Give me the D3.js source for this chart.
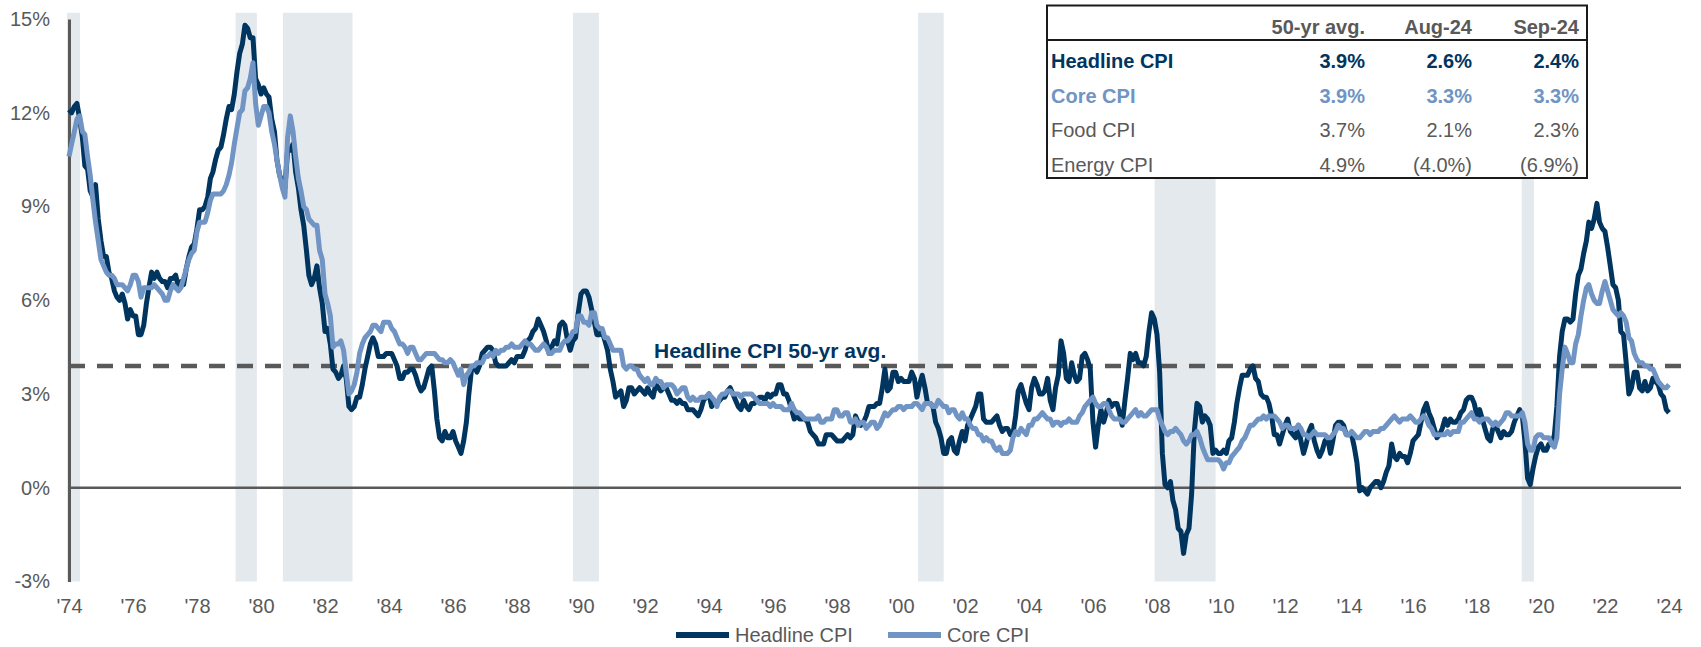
<!DOCTYPE html>
<html lang="en">
<head>
  <meta charset="UTF-8">
  <title>Headline and Core CPI</title>
  <script src="https://cdn.jsdelivr.net/npm/d3@7"></script>
  <style>
    body { margin: 0; background: #fff; }
    svg text { font-family: "Liberation Sans", Arial, sans-serif; }
  </style>
</head>
<body>
<div id="chart"></div>
<script>
  // Monthly y/y % change, first value is Sep 1974, last is Sep 2024
  const firstMonth = new Date(1974, 8, 1);

  const headline = [
    12.1, 12.0, 12.2, 12.3,
    11.8, 11.2, 10.3, 10.2, 9.5, 9.3, 9.7, 8.6, 7.9, 7.4, 7.4, 6.9,
    6.7, 6.3, 6.1, 6.0, 6.2, 5.9, 5.4, 5.7, 5.5, 5.5, 4.9, 4.9,
    5.2, 5.9, 6.4, 6.9, 6.7, 6.9, 6.7, 6.6, 6.6, 6.4, 6.7, 6.7,
    6.8, 6.4, 6.6, 6.5, 7.0, 7.4, 7.7, 7.8, 8.3, 8.9, 8.9, 9.0,
    9.3, 9.9, 10.1, 10.5, 10.8, 10.9, 11.3, 11.8, 12.2, 12.1, 12.6, 13.3,
    13.9, 14.2, 14.8, 14.7, 14.4, 14.4, 13.1, 12.9, 12.6, 12.8, 12.6, 12.5,
    11.8, 11.4, 10.5, 10.0, 9.8, 9.6, 10.8, 10.8, 11.0, 10.1, 9.6, 8.9,
    8.4, 7.6, 6.8, 6.5, 6.7, 7.1, 6.4, 5.9, 5.0, 5.1, 4.6, 3.8,
    3.7, 3.5, 3.6, 3.9, 3.5, 2.6, 2.5, 2.6, 2.9, 2.9, 3.3, 3.8,
    4.2, 4.6, 4.8, 4.6, 4.2, 4.2, 4.2, 4.3, 4.3, 4.3, 4.1, 3.9,
    3.5, 3.5, 3.7, 3.7, 3.8, 3.8, 3.6, 3.3, 3.1, 3.2, 3.5, 3.8,
    3.9, 3.1, 2.2, 1.6, 1.5, 1.8, 1.6, 1.6, 1.8, 1.5, 1.3, 1.1,
    1.5, 2.1, 3.0, 3.8, 3.9, 3.7, 3.9, 4.3, 4.4, 4.5, 4.5, 4.4,
    4.0, 3.9, 3.9, 3.9, 3.9, 4.0, 4.1, 4.0, 4.2, 4.2, 4.2, 4.4,
    4.7, 4.8, 5.0, 5.1, 5.4, 5.2, 5.0, 4.7, 4.3, 4.5, 4.7, 4.6,
    5.2, 5.3, 5.2, 4.7, 4.4, 4.7, 4.8, 5.6, 6.2, 6.3, 6.3, 6.1,
    5.7, 5.3, 4.9, 4.9, 5.0, 4.7, 4.4, 3.8, 3.4, 2.9, 3.0, 3.1,
    2.6, 2.8, 3.2, 3.2, 3.0, 3.1, 3.2, 3.1, 3.0, 3.2, 3.0, 2.9,
    3.3, 3.2, 3.1, 3.2, 3.2, 3.0, 2.8, 2.8, 2.7, 2.8, 2.7, 2.7,
    2.5, 2.5, 2.5, 2.4, 2.3, 2.5, 2.8, 2.9, 3.0, 2.6, 2.7, 2.7,
    2.8, 2.9, 2.9, 3.1, 3.2, 3.0, 2.8, 2.6, 2.5, 2.8, 2.6, 2.5,
    2.7, 2.7, 2.8, 2.9, 2.9, 2.8, 3.0, 2.9, 3.0, 3.0, 3.3, 3.3,
    3.0, 3.0, 2.8, 2.5, 2.2, 2.3, 2.2, 2.2, 2.2, 2.1, 1.8, 1.7,
    1.6, 1.4, 1.4, 1.4, 1.7, 1.7, 1.7, 1.6, 1.5, 1.5, 1.5, 1.6,
    1.7, 1.6, 1.7, 2.3, 2.1, 2.0, 2.1, 2.3, 2.6, 2.6, 2.6, 2.7,
    2.7, 3.2, 3.8, 3.1, 3.2, 3.7, 3.7, 3.4, 3.5, 3.4, 3.4, 3.4,
    3.7, 3.5, 2.9, 3.3, 3.6, 3.2, 2.7, 2.7, 2.6, 2.1, 1.9, 1.6,
    1.1, 1.1, 1.5, 1.6, 1.2, 1.1, 1.5, 1.8, 1.5, 2.0, 2.2, 2.4,
    2.6, 3.0, 3.0, 2.2, 2.1, 2.1, 2.1, 2.2, 2.3, 2.0, 1.8, 1.9,
    1.9, 1.7, 1.7, 2.3, 3.1, 3.3, 3.0, 2.7, 2.5, 3.2, 3.5, 3.3,
    3.0, 3.0, 3.1, 3.5, 2.8, 2.5, 3.2, 3.6, 4.7, 4.3, 3.5, 3.4,
    4.0, 3.6, 3.4, 3.5, 4.2, 4.3, 4.1, 3.8, 2.1, 1.3, 2.0, 2.5,
    2.1, 2.4, 2.8, 2.6, 2.7, 2.7, 2.4, 2.0, 2.8, 3.5, 4.3, 4.1,
    4.3, 4.0, 4.0, 3.9, 4.2, 5.0, 5.6, 5.4, 4.9, 3.7, 1.1, 0.1,
    0.0, 0.2, -0.4, -0.7, -1.3, -1.4, -2.1, -1.5, -1.3, -0.2, 1.8, 2.7,
    2.6, 2.1, 2.3, 2.2, 2.0, 1.1, 1.2, 1.1, 1.1, 1.2, 1.1, 1.5,
    1.6, 2.1, 2.7, 3.2, 3.6, 3.6, 3.6, 3.8, 3.9, 3.5, 3.4, 3.0,
    2.9, 2.9, 2.7, 2.3, 1.7, 1.7, 1.4, 1.7, 2.0, 2.2, 1.8, 1.7,
    1.6, 2.0, 1.5, 1.1, 1.4, 1.8, 2.0, 1.5, 1.2, 1.0, 1.2, 1.5,
    1.6, 1.1, 1.5, 2.0, 2.1, 2.1, 2.0, 1.7, 1.7, 1.7, 1.3, 0.8,
    -0.1, 0.0, -0.1, -0.2, 0.0, 0.1, 0.2, 0.2, 0.0, 0.2, 0.5, 0.7,
    1.4, 1.0, 0.9, 1.1, 1.0, 1.0, 0.8, 1.1, 1.5, 1.6, 1.7, 2.1,
    2.5, 2.7, 2.4, 2.2, 1.9, 1.6, 1.7, 1.9, 2.2, 2.0, 2.2, 2.1,
    2.1, 2.2, 2.4, 2.5, 2.8, 2.9, 2.9, 2.7, 2.3, 2.5, 2.2, 1.9,
    1.6, 1.5, 1.9, 2.0, 1.8, 1.6, 1.8, 1.7, 1.7, 1.8, 2.1, 2.3,
    2.5, 2.3, 1.5, 0.3, 0.1, 0.6, 1.0, 1.3, 1.4, 1.2, 1.2, 1.4,
    1.4, 1.7, 2.6, 4.2, 5.0, 5.4, 5.4, 5.3, 5.4, 6.2, 6.8, 7.0,
    7.5, 7.9, 8.5, 8.3, 8.6, 9.1, 8.5, 8.3, 8.2, 7.7, 7.1, 6.5,
    6.4, 6.0, 5.0, 4.9, 4.0, 3.0, 3.2, 3.7, 3.7, 3.2, 3.1, 3.4,
    3.1, 3.2, 3.5, 3.4, 3.3, 3.0, 2.9, 2.5, 2.4
  ];

  const core = [
    10.6, 11.0, 11.4, 11.8,
    11.9, 11.4, 11.3, 10.6, 10.0, 9.2, 8.5, 7.9, 7.3, 7.1, 6.9, 6.8,
    6.8, 6.7, 6.5, 6.5, 6.5, 6.4, 6.3, 6.5, 6.8, 6.8, 6.6, 6.1,
    6.4, 6.4, 6.4, 6.4, 6.5, 6.4, 6.3, 6.2, 6.0, 6.0, 6.3, 6.5,
    6.4, 6.3, 6.4, 6.7, 7.0, 7.3, 7.5, 7.6, 8.2, 8.5, 8.5, 8.5,
    8.8, 9.2, 9.4, 9.4, 9.4, 9.4, 9.5, 9.7, 10.0, 10.4, 11.0, 11.5,
    12.0, 12.1, 12.7, 12.8, 13.1, 13.6, 12.3, 11.6, 11.9, 12.2, 12.2, 12.0,
    11.4, 11.0, 10.5, 10.0, 9.6, 9.3, 11.2, 11.9, 11.4, 10.6, 9.9, 9.5,
    9.0, 8.9, 8.6, 8.5, 8.4, 8.4, 7.6, 7.3, 6.2, 5.9, 5.5, 4.5,
    4.6, 4.6, 4.7, 4.4, 3.7, 3.0, 3.1, 3.3, 3.7, 4.3, 4.6, 4.8,
    4.9, 5.0, 5.2, 5.2, 5.1, 5.0, 5.3, 5.3, 5.3, 5.1, 5.0, 4.8,
    4.6, 4.6, 4.5, 4.3, 4.5, 4.5, 4.3, 4.1, 4.1, 4.2, 4.3, 4.3,
    4.3, 4.3, 4.2, 4.1, 4.1, 4.0, 4.0, 4.1, 4.0, 3.8, 3.6, 3.8,
    3.3, 3.6, 3.7, 3.9, 3.9, 4.0, 4.0, 4.0, 4.2, 4.2, 4.3, 4.2,
    4.4, 4.3, 4.4, 4.4, 4.5, 4.5, 4.6, 4.5, 4.5, 4.5, 4.6, 4.7,
    4.6, 4.6, 4.5, 4.4, 4.4, 4.5, 4.6, 4.5, 4.3, 4.3, 4.4, 4.4,
    4.4, 4.6, 4.7, 4.7, 4.8, 5.0, 5.0, 5.5, 5.5, 5.3, 5.3, 5.2,
    5.6, 5.6, 5.2, 5.1, 5.1, 4.8, 4.8, 4.6, 4.4, 4.4, 4.4, 4.4,
    3.9, 3.8, 3.9, 3.9, 3.8, 3.8, 3.6, 3.5, 3.4, 3.5, 3.3, 3.3,
    3.5, 3.4, 3.4, 3.2, 3.3, 3.3, 3.3, 3.2, 3.0, 3.1, 3.2, 3.2,
    2.9, 2.8, 2.9, 2.8, 2.8, 2.9, 2.9, 2.9, 3.0, 2.9, 2.8, 2.6,
    2.9, 3.0, 3.0, 3.1, 3.1, 3.0, 3.0, 3.0, 2.9, 3.0, 3.0, 3.0,
    3.0, 2.9, 2.8, 2.7, 2.7, 2.7, 2.7, 2.6, 2.7, 2.6, 2.6, 2.6,
    2.5, 2.5, 2.5, 2.7, 2.5, 2.4, 2.4, 2.3, 2.2, 2.2, 2.2, 2.2,
    2.2, 2.3, 2.1, 2.1, 2.2, 2.2, 2.2, 2.5, 2.5, 2.3, 2.3, 2.4,
    2.4, 2.1, 2.1, 2.2, 2.0, 2.1, 2.1, 1.9, 2.0, 2.1, 2.1, 1.9,
    2.0, 2.2, 2.4, 2.3, 2.4, 2.5, 2.5, 2.6, 2.6, 2.5, 2.6, 2.6,
    2.6, 2.7, 2.7, 2.6, 2.5, 2.7, 2.7, 2.7, 2.6, 2.6, 2.8, 2.7,
    2.6, 2.6, 2.4, 2.5, 2.5, 2.3, 2.2, 2.4, 2.2, 2.2, 2.0, 1.9,
    1.9, 1.7, 1.7, 1.5, 1.6, 1.5, 1.5, 1.3, 1.2, 1.3, 1.1, 1.1,
    1.1, 1.2, 1.6, 1.8, 1.7, 1.9, 1.8, 1.7, 2.0, 2.0, 2.2, 2.2,
    2.3, 2.4, 2.3, 2.2, 2.2, 2.0, 2.1, 2.1, 2.0, 2.1, 2.1, 2.2,
    2.1, 2.1, 2.1, 2.3, 2.4, 2.6, 2.7, 2.8, 2.9, 2.7, 2.6, 2.6,
    2.7, 2.7, 2.5, 2.3, 2.2, 2.2, 2.2, 2.1, 2.1, 2.2, 2.3, 2.4,
    2.5, 2.3, 2.4, 2.3, 2.3, 2.4, 2.5, 2.5, 2.5, 2.2, 2.0, 1.8,
    1.7, 1.8, 1.8, 1.9, 1.8, 1.7, 1.5, 1.4, 1.5, 1.7, 1.7, 1.8,
    1.6, 1.3, 1.1, 0.9, 0.9, 0.9, 0.9, 0.9, 0.8, 0.6, 0.8, 0.8,
    1.0, 1.1, 1.2, 1.3, 1.5, 1.6, 1.8, 2.0, 2.0, 2.1, 2.2, 2.2,
    2.3, 2.2, 2.3, 2.3, 2.3, 2.2, 2.1, 1.9, 2.0, 2.0, 1.9, 1.9,
    1.9, 2.0, 1.9, 1.7, 1.7, 1.6, 1.7, 1.8, 1.7, 1.7, 1.7, 1.7,
    1.6, 1.6, 1.7, 1.8, 2.0, 1.9, 1.9, 1.7, 1.7, 1.8, 1.7, 1.6,
    1.6, 1.7, 1.8, 1.8, 1.7, 1.8, 1.8, 1.8, 1.9, 1.9, 2.0, 2.1,
    2.2, 2.3, 2.2, 2.1, 2.2, 2.2, 2.2, 2.3, 2.2, 2.1, 2.1, 2.2,
    2.3, 2.2, 2.0, 1.9, 1.7, 1.7, 1.7, 1.7, 1.7, 1.8, 1.7, 1.8,
    1.8, 1.8, 2.1, 2.1, 2.2, 2.3, 2.4, 2.2, 2.2, 2.1, 2.2, 2.2,
    2.2, 2.1, 2.0, 2.1, 2.0, 2.1, 2.2, 2.4, 2.4, 2.3, 2.3, 2.3,
    2.3, 2.4, 2.1, 1.4, 1.2, 1.2, 1.6, 1.7, 1.7, 1.6, 1.6, 1.6,
    1.4, 1.3, 1.6, 3.0, 3.8, 4.5, 4.3, 4.0, 4.0, 4.6, 4.9, 5.5,
    6.0, 6.4, 6.5, 6.2, 6.0, 5.9, 5.9, 6.3, 6.6, 6.3, 6.0, 5.7,
    5.6, 5.5, 5.6, 5.5, 5.3, 4.8, 4.7, 4.3, 4.1, 4.0, 4.0, 3.9,
    3.9, 3.8, 3.8, 3.6, 3.4, 3.3, 3.2, 3.2, 3.3
  ];

  // Shaded periods (start, end)
  const recessions = [
    ["1974-08-08", "1975-01-05"],
    ["1979-11-15", "1980-07-15"],
    ["1981-05-08", "1983-07-12"],
    ["1990-06-01", "1991-03-25"],
    ["2001-03-15", "2002-01-01"],
    ["2008-08-05", "2010-07-01"],
    ["2020-01-25", "2020-06-12"]
  ];

  const avg50 = 3.9;
  const yTicks = [-3, 0, 3, 6, 9, 12, 15];
  const xTickLabels = ["'74", "'76", "'78", "'80", "'82", "'84", "'86", "'88", "'90", "'92", "'94", "'96", "'98",
    "'00", "'02", "'04", "'06", "'08", "'10", "'12", "'14", "'16", "'18", "'20", "'22", "'24"];

  // Table
  const tableCols = ["50-yr avg.", "Aug-24", "Sep-24"];
  const tableRows = ["Headline CPI", "Core CPI", "Food CPI", "Energy CPI"];
  const tableValues = [
    ["3.9%", "2.6%", "2.4%"],
    ["3.9%", "3.3%", "3.3%"],
    ["3.7%", "2.1%", "2.3%"],
    ["4.9%", "(4.0%)", "(6.9%)"]
  ];

  const navy = "#00355f";
  const lightBlue = "#7094c3";
  const grey = "#595959";

  const width = 1701;
  const height = 647;

  const svg = d3.select("#chart")
    .append("svg")
    .attr("width", width)
    .attr("height", height);

  const months = headline.map((d, i) => d3.timeMonth.offset(firstMonth, i));
  const lastMonth = months[months.length - 1];

  const x = d3.scaleTime()
    .domain([firstMonth, lastMonth])
    .range([69, 1669]);

  const y = d3.scaleLinear()
    .domain([-3, 15])
    .range([581.5, 19]);

  // Recession bars
  const parse = d3.timeParse("%Y-%m-%d");
  svg.append("g")
    .selectAll("rect")
    .data(recessions)
    .enter().append("rect")
    .attr("x", d => x(parse(d[0])))
    .attr("width", d => x(parse(d[1])) - x(parse(d[0])))
    .attr("y", y(15.2))
    .attr("height", y(-3) - y(15.2))
    .attr("fill", "#e4e9ee");

  // Zero line
  svg.append("line")
    .attr("x1", 69).attr("x2", x(lastMonth) + 12)
    .attr("y1", y(0)).attr("y2", y(0))
    .attr("stroke", grey)
    .attr("stroke-width", 2.5);

  // 50-yr average
  svg.append("line")
    .attr("x1", 69).attr("x2", x(lastMonth) + 12)
    .attr("y1", y(avg50)).attr("y2", y(avg50))
    .attr("stroke", grey)
    .attr("stroke-width", 4.5)
    .attr("stroke-dasharray", "16,12");

  svg.append("text")
    .attr("x", 654)
    .attr("y", y(avg50) - 15)
    .attr("dy", "0.35em")
    .attr("fill", navy)
    .attr("font-weight", "bold")
    .attr("font-size", 21)
    .text("Headline CPI 50-yr avg.");

  // Axes
  const yAxis = svg.append("g")
    .attr("transform", "translate(69,0)")
    .call(d3.axisLeft(y).tickValues(yTicks).tickSize(0).tickSizeOuter(0).tickPadding(19).tickFormat(d => d + "%"));
  yAxis.select(".domain").attr("stroke", grey).attr("stroke-width", 3);
  yAxis.selectAll("text").attr("font-size", 20).attr("fill", grey)
    .attr("font-family", "Liberation Sans, Arial, sans-serif");

  const xTickDates = xTickLabels.map((d, i) => new Date(1974 + i * 2, 8, 1));
  const xAxis = svg.append("g")
    .attr("transform", `translate(0,${y(-3)})`)
    .call(d3.axisBottom(x).tickValues(xTickDates).tickSize(0).tickPadding(17)
      .tickFormat((d, i) => xTickLabels[i]));
  xAxis.select(".domain").remove();
  xAxis.selectAll("text").attr("font-size", 20).attr("fill", grey)
    .attr("font-family", "Liberation Sans, Arial, sans-serif");

  // Lines
  const line = d3.line()
    .x((d, i) => x(months[i]))
    .y(d => y(d));

  svg.append("path")
    .datum(headline)
    .attr("fill", "none")
    .attr("stroke", navy)
    .attr("stroke-width", 5)
    .attr("stroke-linejoin", "round")
    .attr("d", line);

  svg.append("path")
    .datum(core)
    .attr("fill", "none")
    .attr("stroke", lightBlue)
    .attr("stroke-width", 5)
    .attr("stroke-linejoin", "round")
    .attr("d", line);

  // Table box
  const tbl = svg.append("g");
  tbl.append("rect")
    .attr("x", 1047).attr("y", 5.5)
    .attr("width", 540).attr("height", 172.5)
    .attr("fill", "#fff")
    .attr("stroke", "#1a1a1a")
    .attr("stroke-width", 2);
  tbl.append("line")
    .attr("x1", 1047).attr("x2", 1587)
    .attr("y1", 40).attr("y2", 40)
    .attr("stroke", "#1a1a1a")
    .attr("stroke-width", 2);

  const colRight = [1365, 1472, 1579];
  const rowY = [61, 95.7, 130, 165];
  const rowColor = [navy, lightBlue, grey, grey];
  const rowWeight = ["bold", "bold", "normal", "normal"];

  tbl.selectAll(".hdr")
    .data(tableCols)
    .enter().append("text")
    .attr("x", (d, i) => colRight[i])
    .attr("y", 26.5)
    .attr("dy", "0.35em")
    .attr("text-anchor", "end")
    .attr("font-size", 20)
    .attr("font-weight", "bold")
    .attr("fill", grey)
    .text(d => d);

  tableRows.forEach((name, r) => {
    tbl.append("text")
      .attr("x", 1051)
      .attr("y", rowY[r])
      .attr("dy", "0.35em")
      .attr("font-size", 20)
      .attr("font-weight", rowWeight[r])
      .attr("fill", rowColor[r])
      .text(name);
    tableValues[r].forEach((v, c) => {
      tbl.append("text")
        .attr("x", colRight[c])
        .attr("y", rowY[r])
        .attr("dy", "0.35em")
        .attr("text-anchor", "end")
        .attr("font-size", 20)
        .attr("font-weight", rowWeight[r])
        .attr("fill", rowColor[r])
        .text(v);
    });
  });

  // Legend
  const legend = [
    { name: "Headline CPI", color: navy, x: 676 },
    { name: "Core CPI", color: lightBlue, x: 888 }
  ];
  const lg = svg.append("g").selectAll("g")
    .data(legend)
    .enter().append("g");
  lg.append("line")
    .attr("x1", d => d.x).attr("x2", d => d.x + 53)
    .attr("y1", 635).attr("y2", 635)
    .attr("stroke", d => d.color)
    .attr("stroke-width", 6);
  lg.append("text")
    .attr("x", d => d.x + 59)
    .attr("y", 635)
    .attr("dy", "0.35em")
    .attr("font-size", 20)
    .attr("fill", grey)
    .text(d => d.name);
</script>
</body>
</html>
